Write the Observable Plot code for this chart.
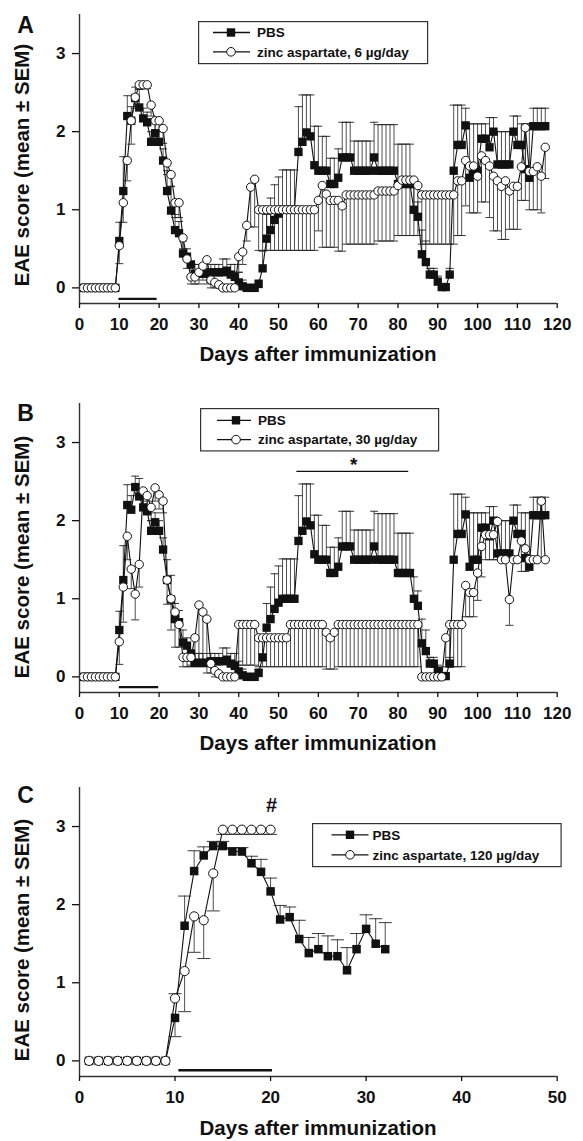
<!DOCTYPE html>
<html><head><meta charset="utf-8">
<script src="https://cdn.jsdelivr.net/npm/d3@7"></script>
<script src="https://cdn.jsdelivr.net/npm/@observablehq/plot@0.6"></script>
<style>
body{margin:0;background:#fff;}
#wrap{position:relative;width:583px;height:1141px;overflow:hidden;font-family:"Liberation Sans",Arial,sans-serif;font-weight:bold;color:#111;}
.abs{position:absolute;white-space:nowrap;}
</style></head><body><div id="wrap"></div>
<script>
// ---------- data (index 0 = day 1) ----------
const yTicks = [0, 1, 2, 3];
const xTicksAB = [0, 10, 20, 30, 40, 50, 60, 70, 80, 90, 100, 110, 120];
const xTicksC = [0, 10, 20, 30, 40, 50];

// PBS control group (panels A and B)
const pbsAB = [0,0,0,0,0,0,0,0,0,
  0.6,1.24,2.2,2.14,2.43,2.31,2.17,2.12,1.87,1.98,
  1.87,1.63,1.24,0.99,0.74,0.7,0.44,0.4,0.3,0.18,
  0.18,0.18,0.18,0.2,0.2,0.2,0.2,0.22,0.17,0.14,
  0.07,0.02,0,0,0,0.05,0.25,0.63,0.74,0.87,
  0.95,1,1,1,1,1.74,1.87,1.99,1.94,1.57,
  1.5,1.5,1.5,1.33,1.33,1.41,1.67,1.67,1.67,1.5,
  1.5,1.5,1.5,1.5,1.67,1.5,1.5,1.5,1.5,1.5,
  1.33,1.33,1.33,1.33,1.0,0.91,0.43,0.33,0.17,0.17,
  0.08,0.01,0.01,0.17,1.5,1.83,1.83,2.08,1.41,1.5,
  1.5,1.91,1.91,1.8,2.0,1.58,1.58,1.58,1.58,2.0,
  1.83,1.83,1.52,1.41,2.07,2.07,2.07,2.07];
const pbsABErr = [0,0,0,0,0,0,0,0,0,
  0.84,1.68,2.46,2.32,2.57,2.54,2.3,2.25,2.0,2.1,
  2.0,1.78,1.5,1.3,0.94,0.85,0.6,0.5,0.15,0.3,
  0.3,0.3,0.05,0.3,0.3,0.3,0.37,0.37,0.3,0.3,
  0.2,0.1,0,0,0,0.1,0.47,0.94,1.15,1.32,
  1.42,1.51,1.51,1.51,1.51,2.32,2.47,2.47,2.47,2.07,
  2.07,1.94,1.94,1.66,1.66,1.78,2.12,2.12,2.12,1.88,
  1.88,1.88,1.88,1.88,2.12,2.09,2.09,2.09,2.09,2.09,
  1.84,1.84,1.84,1.84,1.28,1.1,0.74,0.6,0.25,0.25,
  0.15,0,0,0.25,2.34,2.34,2.34,2.3,2.1,2.1,
  2.1,2.1,2.1,2.18,2.18,2.0,2.0,2.0,2.0,2.2,
  2.2,2.1,2.1,2.1,2.3,2.3,2.3,2.3];

// zinc aspartate 6 µg/day (panel A)
const zincA = [0,0,0,0,0,0,0,0,0,
  0.54,1.09,1.63,2.14,2.44,2.6,2.6,2.6,2.34,2.14,
  2.14,2.04,1.6,1.45,1.09,1.09,0.64,0.37,0.14,0.14,
  0.2,0.28,0.36,0.1,0.07,0.04,0,0,0,0,
  0.4,0.46,0.8,1.29,1.39,1,1,1,1,1,
  1,1,1,1,1,1,1,1,1,1,
  1.12,1.31,1.2,1.12,1.12,1.12,1.05,1.19,1.19,1.19,
  1.19,1.19,1.19,1.19,1.19,1.24,1.24,1.24,1.24,1.24,
  1.31,1.38,1.38,1.38,1.38,1.31,1.19,1.19,1.19,1.19,
  1.19,1.19,1.19,1.19,1.19,1.37,1.37,1.63,1.56,1.56,
  1.43,1.69,1.63,1.56,1.43,1.37,1.3,1.37,1.24,1.3,
  1.3,1.55,2.05,1.49,1.49,1.55,1.43,1.8];
const zincAErr = [0,0,0,0,0,0,0,0,0,
  0.31,0.84,1.37,1.84,2.3,2.55,2.55,2.55,2.2,2.0,
  2.0,1.85,1.45,1.3,0.9,0.9,0.5,0.25,0.05,0.05,
  0.05,0.1,0.2,0,0,0,0,0,0,0,
  0.2,0.3,0.6,0.78,0.78,0.48,0.48,0.48,0.48,0.48,
  0.48,0.48,0.48,0.48,0.48,0.48,0.48,0.48,0.48,0.48,
  0.73,0.52,0.52,0.52,0.52,0.47,0.47,0.56,0.56,0.56,
  0.56,0.56,0.56,0.56,0.56,0.6,0.6,0.6,0.6,0.6,
  0.67,0.67,0.67,0.67,0.67,0.67,0.56,0.56,0.56,0.56,
  0.56,0.56,0.56,0.56,0.56,0.67,0.67,1.05,0.96,0.96,
  0.96,1.1,1.1,0.9,0.73,0.73,0.62,0.62,0.75,0.75,
  0.75,1.12,1.12,1.0,1.0,1.0,0.96,1.4];

// zinc aspartate 30 µg/day (panel B)
const zincB = [0,0,0,0,0,0,0,0,0,
  0.45,1.15,1.8,1.38,1.06,1.44,2.38,2.32,2.17,2.42,
  2.33,2.25,1.24,1.0,0.83,0.67,0.25,0.25,0.25,0.5,
  0.92,0.83,0.74,0.17,0.08,0.04,0,0,0,0,
  0.67,0.67,0.67,0.67,0.67,0.5,0.5,0.5,0.5,0.5,
  0.5,0.5,0.5,0.67,0.67,0.67,0.67,0.67,0.67,0.67,
  0.67,0.67,0.57,0.5,0.57,0.67,0.67,0.67,0.67,0.67,
  0.67,0.67,0.67,0.67,0.67,0.67,0.67,0.67,0.67,0.67,
  0.67,0.67,0.67,0.67,0.67,0.67,0,0,0,0,
  0,0,0.5,0.67,0.67,0.67,0.67,1.17,1.08,1.08,
  1.33,1.67,1.82,1.82,1.82,1.99,1.5,1.5,0.99,1.5,
  1.5,1.74,1.64,1.5,1.5,1.5,2.25,1.5];
const zincBErr = [0,0,0,0,0,0,0,0,0,
  0.16,0.7,1.5,1.13,0.73,1.15,2.2,2.15,2.0,2.25,
  2.15,2.1,0.93,0.6,0.38,0.38,0.13,0.13,0.13,0.13,
  0.13,0.13,0.13,0.05,0,0,0,0,0,0,
  0.15,0.15,0.15,0.15,0.15,0.13,0.13,0.13,0.13,0.13,
  0.13,0.13,0.13,0.13,0.13,0.13,0.13,0.13,0.13,0.13,
  0.13,0.13,0.1,0.1,0.1,0.13,0.13,0.13,0.13,0.13,
  0.13,0.13,0.13,0.13,0.13,0.13,0.13,0.13,0.13,0.13,
  0.13,0.13,0.13,0.13,0.13,0.13,0,0,0,0,
  0,0,0.13,0.13,0.13,0.13,0.13,0.77,0.77,0.77,
  0.98,1.28,1.5,1.5,1.5,1.5,1.5,1.5,0.66,1.5,
  1.5,1.35,1.35,1.5,1.5,1.5,1.5,1.5];

// panel C: PBS and zinc aspartate 120 µg/day
const pbsC = [0,0,0,0,0,0,0,0,0,
  0.55,1.73,2.43,2.63,2.75,2.75,2.68,2.68,2.53,2.42,
  2.17,1.81,1.84,1.56,1.38,1.43,1.34,1.34,1.16,1.43,
  1.69,1.5,1.43];
const pbsCErr = [0,0,0,0,0,0,0,0,0,
  0.31,2.11,2.69,2.74,2.81,2.81,2.73,2.73,2.62,2.58,
  2.34,1.99,1.97,1.8,1.58,1.63,1.6,1.55,1.45,1.63,
  1.87,1.82,1.77];
const zincC = [0,0,0,0,0,0,0,0,0,
  0.8,1.15,1.85,1.8,2.4,2.96,2.96,2.96,2.96,2.96,2.96];
const zincCErr = [0,0,0,0,0,0,0,0,0,
  0.86,0.63,1.39,1.31,1.92,2.9,2.9,2.9,2.9,2.9,2.9];

// treatment periods and significance marks (days)
const treatA = [9.9, 19.5];
const treatB = [10, 19.9];
const treatC = [10.4, 20.2];
const sigB = [54.6, 82.7];
const sigBDay = [68.9];
const hashCDay = [20.1];

// ---------- drawing ----------
const wrap = document.getElementById("wrap");
const FONT = '"Liberation Sans", Arial, sans-serif';

function series(vals, errs) { return vals.map((v, i) => ({day: i + 1, v, e: errs[i]})); }

function panel(o) {
  const pbs = series(o.pbs, o.pbsErr), zinc = series(o.zinc, o.zincErr);
  const cw = o.capW;
  const cap = {draw(ctx) { ctx.moveTo(-cw / 2, 0); ctx.lineTo(cw / 2, 0); }};
  const withErr = a => a.filter(d => d.e !== d.v);
  const errMarks = arr => [
    Plot.ruleX(withErr(arr), {x: "day", y1: "v", y2: "e", stroke: "#222", strokeWidth: 0.8}),
    Plot.dot(withErr(arr), {x: "day", y: "e", symbol: cap, r: 3, fill: "none", stroke: "#222", strokeWidth: 0.9})
  ];
  const svg = Plot.plot({
    width: 583, height: 343,
    marginLeft: 79, marginRight: 26.3, marginTop: 14, marginBottom: 40,
    x: {domain: o.xDomain},
    y: {domain: [-0.2, 3.5]},
    style: {fontFamily: FONT, fontWeight: "bold", fontSize: "17px", color: "#111", background: "transparent", overflow: "visible"},
    marks: [
      ...errMarks(zinc),
      ...errMarks(pbs),
      Plot.line(pbs, {x: "day", y: "v", stroke: "#111", strokeWidth: 1.1}),
      Plot.line(zinc, {x: "day", y: "v", stroke: "#111", strokeWidth: 1.1}),
      Plot.dot(pbs, {x: "day", y: "v", symbol: "square", r: o.sqR, fill: "#111", stroke: "none"}),
      Plot.dot(zinc, {x: "day", y: "v", symbol: "circle", r: o.cR, fill: "white", stroke: "#111", strokeWidth: 1}),
      Plot.ruleY([o.treat], {x1: d => d[0], x2: d => d[1], y: o.treatY, stroke: "#111", strokeWidth: 2.3}),
      ...(o.extra || []),
      Plot.ruleY([-0.2], {stroke: "#333", strokeWidth: 1.4}),
      Plot.ruleX([0], {stroke: "#333", strokeWidth: 1.4}),
      Plot.axisX({ticks: o.xTicks, tickSize: 5, tickPadding: 9, strokeWidth: 1.3, label: null, tickFormat: d => String(d)}),
      Plot.axisY({ticks: yTicks, tickSize: 7, tickPadding: 7, strokeWidth: 1.3, label: null, tickFormat: d => String(d)})
    ]
  });
  svg.style.position = "absolute";
  svg.style.left = "0px";
  svg.style.top = o.top + "px";
  svg.style.maxWidth = "none";
  wrap.appendChild(svg);
}

panel({top: 0, pbs: pbsAB, pbsErr: pbsABErr, zinc: zincA, zincErr: zincAErr,
  xDomain: [0, 120], xTicks: xTicksAB, capW: 8, sqR: 4.7, cR: 4.2, treat: treatA, treatY: -0.14});

panel({top: 389.3, pbs: pbsAB, pbsErr: pbsABErr, zinc: zincB, zincErr: zincBErr,
  xDomain: [0, 120], xTicks: xTicksAB, capW: 8, sqR: 4.7, cR: 4.2, treat: treatB, treatY: -0.13,
  extra: [
    Plot.ruleY([sigB], {x1: d => d[0], x2: d => d[1], y: 2.63, stroke: "#111", strokeWidth: 1.3}),
    Plot.text(sigBDay, {x: d => d, y: 2.71, text: () => "*", fontSize: 19, fontWeight: "bold", fill: "#111"})
  ]});

panel({top: 772.7, pbs: pbsC, pbsErr: pbsCErr, zinc: zincC, zincErr: zincCErr,
  xDomain: [0, 50], xTicks: xTicksC, capW: 13, sqR: 4.8, cR: 4.6, treat: treatC, treatY: -0.12,
  extra: [
    Plot.text(hashCDay, {x: d => d, y: 3.27, text: () => "#", fontSize: 20, fontWeight: "bold", fill: "#111"})
  ]});

// ---------- text ----------
function addText(txt, cx, cy, size, rot) {
  const el = document.createElement("div");
  el.className = "abs";
  el.textContent = txt;
  el.style.left = cx + "px";
  el.style.top = cy + "px";
  el.style.fontSize = size + "px";
  el.style.lineHeight = "1";
  el.style.transform = "translate(-50%,-50%)" + (rot ? " rotate(-90deg)" : "");
  wrap.appendChild(el);
}
const yTitle = "EAE score (mean \u00B1 SEM)";
const xTitle = "Days after immunization";
[[165, 354, 25, "A"], [557, 743, 412.5, "B"], [940, 1128, 795, "C"]].forEach(([yc, xc, lc, letter]) => {
  addText(yTitle, 22, yc, 20.5, true);
  addText(xTitle, 318, xc, 20.5, false);
  addText(letter, 25.5, lc, 23, false);
});

// ---------- legends ----------
function addLegend(box, label2) {
  const svg = d3.select(wrap).append("svg").attr("class", "abs")
    .style("left", box.x + "px").style("top", box.y + "px")
    .attr("width", box.w + 2).attr("height", box.h + 2)
    .style("font-family", FONT).style("font-weight", "bold").style("font-size", "13.5px");
  svg.append("rect").attr("x", 0.6).attr("y", 0.6).attr("width", box.w).attr("height", box.h)
    .attr("fill", "white").attr("stroke", "#333").attr("stroke-width", 1.2);
  box.rows.forEach((ry, i) => {
    svg.append("line").attr("x1", box.l1).attr("x2", box.l2).attr("y1", ry).attr("y2", ry)
      .attr("stroke", "#111").attr("stroke-width", 1.3);
    if (i === 0) svg.append("rect").attr("x", box.m - 4.2).attr("y", ry - 4.2).attr("width", 8.4).attr("height", 8.4).attr("fill", "#111");
    else svg.append("circle").attr("cx", box.m).attr("cy", ry).attr("r", 4.3).attr("fill", "white").attr("stroke", "#111").attr("stroke-width", 1);
    svg.append("text").attr("x", box.t).attr("y", ry).attr("dy", "0.36em").attr("fill", "#111")
      .text(i === 0 ? "PBS" : label2);
  });
}
addLegend({x: 198, y: 21, w: 229, h: 42, rows: [11.5, 30.8], l1: 15, l2: 52, m: 33, t: 59}, "zinc aspartate, 6 \u00B5g/day");
addLegend({x: 200, y: 407.7, w: 238, h: 42.3, rows: [12.3, 31.6], l1: 17, l2: 51, m: 36, t: 58}, "zinc aspartate, 30 \u00B5g/day");
addLegend({x: 311.5, y: 822.7, w: 248.5, h: 43, rows: [11.8, 31.8], l1: 19.5, l2: 56.5, m: 38, t: 60.5}, "zinc aspartate, 120 \u00B5g/day");
</script>
</body></html>
